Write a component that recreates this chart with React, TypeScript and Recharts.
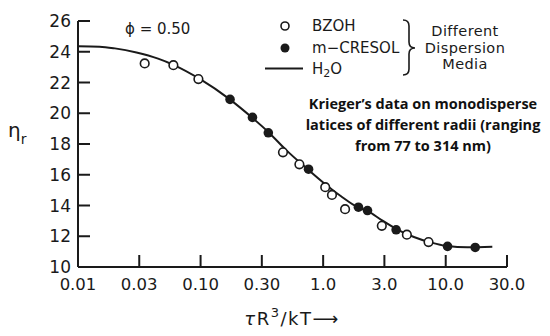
import React from 'react';
import { ComposedChart, XAxis, YAxis, Line, Scatter, Legend } from 'recharts';

// x ticks sit on half-decades; the plot labels them 0.03, 0.30, 3.0, 30.0
const xTicks = [0.01, 0.0316, 0.1, 0.316, 1, 3.16, 10, 31.62];
const xTickLabels = ['0.01', '0.03', '0.10', '0.30', '1.0', '3.0', '10.0', '30.0'];
const yTicks = [10, 12, 14, 16, 18, 20, 22, 24, 26];

// BZOH (open circles)
const bzohX = [0.035, 0.06, 0.096, 0.47, 0.64, 1.04, 1.18, 1.51, 3.01, 4.82, 7.24];
const bzohY = [23.24, 23.13, 22.22, 17.46, 16.68, 15.19, 14.69, 13.76, 12.68, 12.1, 11.62];

// m-CRESOL (filled circles)
const cresolX = [0.174, 0.265, 0.357, 0.76, 1.94, 2.3, 3.94, 10.35, 17.4];
const cresolY = [20.9, 19.73, 18.73, 16.36, 13.89, 13.67, 12.42, 11.34, 11.27];

// H2O (solid curve)
const h2oX = [0.01, 0.015, 0.02, 0.03, 0.045, 0.06, 0.1, 0.17, 0.26, 0.36, 0.5, 0.75, 1.0, 1.4, 1.9, 2.3, 3.0, 4.0, 5.5, 7.5, 10.3, 15, 24];
const h2oY = [24.35, 24.33, 24.22, 23.95, 23.55, 23.15, 22.2, 20.95, 19.75, 18.75, 17.6, 16.35, 15.5, 14.6, 13.9, 13.65, 13.05, 12.45, 11.95, 11.6, 11.36, 11.28, 11.32];

const noteLines = [
  'Krieger\u2019s data on monodisperse',
  'latices of different radii (ranging',
  'from 77 to 314 nm)',
];

const toPoints = (xs: number[], ys: number[]) => xs.map((x, i) => ({ x, y: ys[i] }));

const bzoh = toPoints(bzohX, bzohY);
const cresol = toPoints(cresolX, cresolY);
const h2o = toPoints(h2oX, h2oY);

const FONT = '"DejaVu Sans", sans-serif';
const INK = '#1a1a1a';

function LegendBox() {
  const t = { fontFamily: FONT, fontSize: 15, fill: INK };
  const m = { fontFamily: FONT, fontSize: 14.5, fill: INK, letterSpacing: 0.4 };
  return (
    <svg width={270} height={70} style={{ display: 'block', overflow: 'visible' }}>
      <circle cx={23} cy={14} r={4} fill="#fff" stroke={INK} strokeWidth={1.6} />
      <text x={50} y={14} dominantBaseline="central" {...t}>BZOH</text>
      <circle cx={23} cy={36} r={4.5} fill={INK} />
      <text x={50} y={36} dominantBaseline="central" {...t}>m{'\u2212'}CRESOL</text>
      <line x1={3} x2={41} y1={56.5} y2={56.5} stroke={INK} strokeWidth={2} />
      <text x={50} y={57} dominantBaseline="central" {...t}>
        H<tspan dy={4} fontSize={11}>2</tspan><tspan dy={-4}>O</tspan>
      </text>
      <path
        d="M141,8 Q147,8 147,14 L147,30 Q147,36 153,36 Q147,36 147,42 L147,57 Q147,63 141,63"
        fill="none"
        stroke={INK}
        strokeWidth={1.6}
      />
      <text x={203} y={19} textAnchor="middle" dominantBaseline="central" {...m}>Different</text>
      <text x={203} y={35.5} textAnchor="middle" dominantBaseline="central" {...m}>Dispersion</text>
      <text x={203} y={51.5} textAnchor="middle" dominantBaseline="central" {...m}>Media</text>
    </svg>
  );
}

export default function App() {
  return (
    <div style={{ width: 550, height: 336, background: '#fff' }}>
      <style>{'body{margin:0}'}</style>
      <ComposedChart width={550} height={336} margin={{ top: 21, right: 43, bottom: 0, left: 0 }}>
        <XAxis
          type="number"
          dataKey="x"
          scale="log"
          domain={[0.01, 31.62]}
          allowDataOverflow
          ticks={xTicks}
          tickFormatter={(v: number) => xTickLabels[xTicks.indexOf(v)] ?? ''}
          height={69}
          axisLine={{ stroke: INK, strokeWidth: 2 }}
          tickLine={{ stroke: INK, strokeWidth: 2 }}
          tickSize={-12}
          tickMargin={23}
          tick={{ fontFamily: FONT, fontSize: 16.5, fill: INK }}
          label={() => (
            <text x={292} y={325} textAnchor="middle" fontFamily={FONT} fontSize={18} letterSpacing={1.5} fill={INK}>
              <tspan fontStyle="italic">{'\u03c4'}</tspan>
              <tspan>R</tspan>
              <tspan dy={-8} fontSize={13}>3</tspan>
              <tspan dy={8}>/kT{'\u27f6'}</tspan>
            </text>
          )}
        />
        <YAxis
          type="number"
          dataKey="y"
          domain={[10, 26]}
          ticks={yTicks}
          width={78}
          axisLine={{ stroke: INK, strokeWidth: 2 }}
          tickLine={{ stroke: INK, strokeWidth: 2 }}
          tickSize={-12}
          tickMargin={19}
          tick={{ fontFamily: FONT, fontSize: 17, fill: INK }}
          label={() => (
            <text x={8} y={137} fontFamily={FONT} fontSize={20} fill={INK}>
              {'\u03b7'}
              <tspan dy={7} fontSize={14}>r</tspan>
            </text>
          )}
        />
        <Legend
          layout="vertical"
          align="center"
          verticalAlign="middle"
          wrapperStyle={{ left: 262, top: 12, width: 270, height: 70 }}
          content={() => <LegendBox />}
        />
        <Line
          name="H2O"
          data={h2o}
          dataKey="y"
          type="monotone"
          stroke={INK}
          strokeWidth={2}
          dot={false}
          isAnimationActive={false}
        />
        <Scatter
          name="BZOH"
          data={bzoh}
          fill="#fff"
          shape={(p: any) => <circle cx={p.cx} cy={p.cy} r={4.3} fill="#fff" stroke={INK} strokeWidth={1.6} />}
          isAnimationActive={false}
        />
        <Scatter
          name="m-CRESOL"
          data={cresol}
          fill={INK}
          shape={(p: any) => <circle cx={p.cx} cy={p.cy} r={4.8} fill={INK} />}
          isAnimationActive={false}
        />
        <text x={125} y={29} dominantBaseline="central" fontFamily={FONT} fontSize={15} fill={INK}>
          {'\u03d5 = 0.50'}
        </text>
        {noteLines.map((s, i) => (
          <text
            key={s}
            x={423}
            y={103 + i * 21}
            textAnchor="middle"
            dominantBaseline="central"
            fontFamily='"Open Sans", sans-serif'
            fontWeight={700}
            fontSize={14.5}
            fill="#111"
          >
            {s}
          </text>
        ))}
      </ComposedChart>
    </div>
  );
}
